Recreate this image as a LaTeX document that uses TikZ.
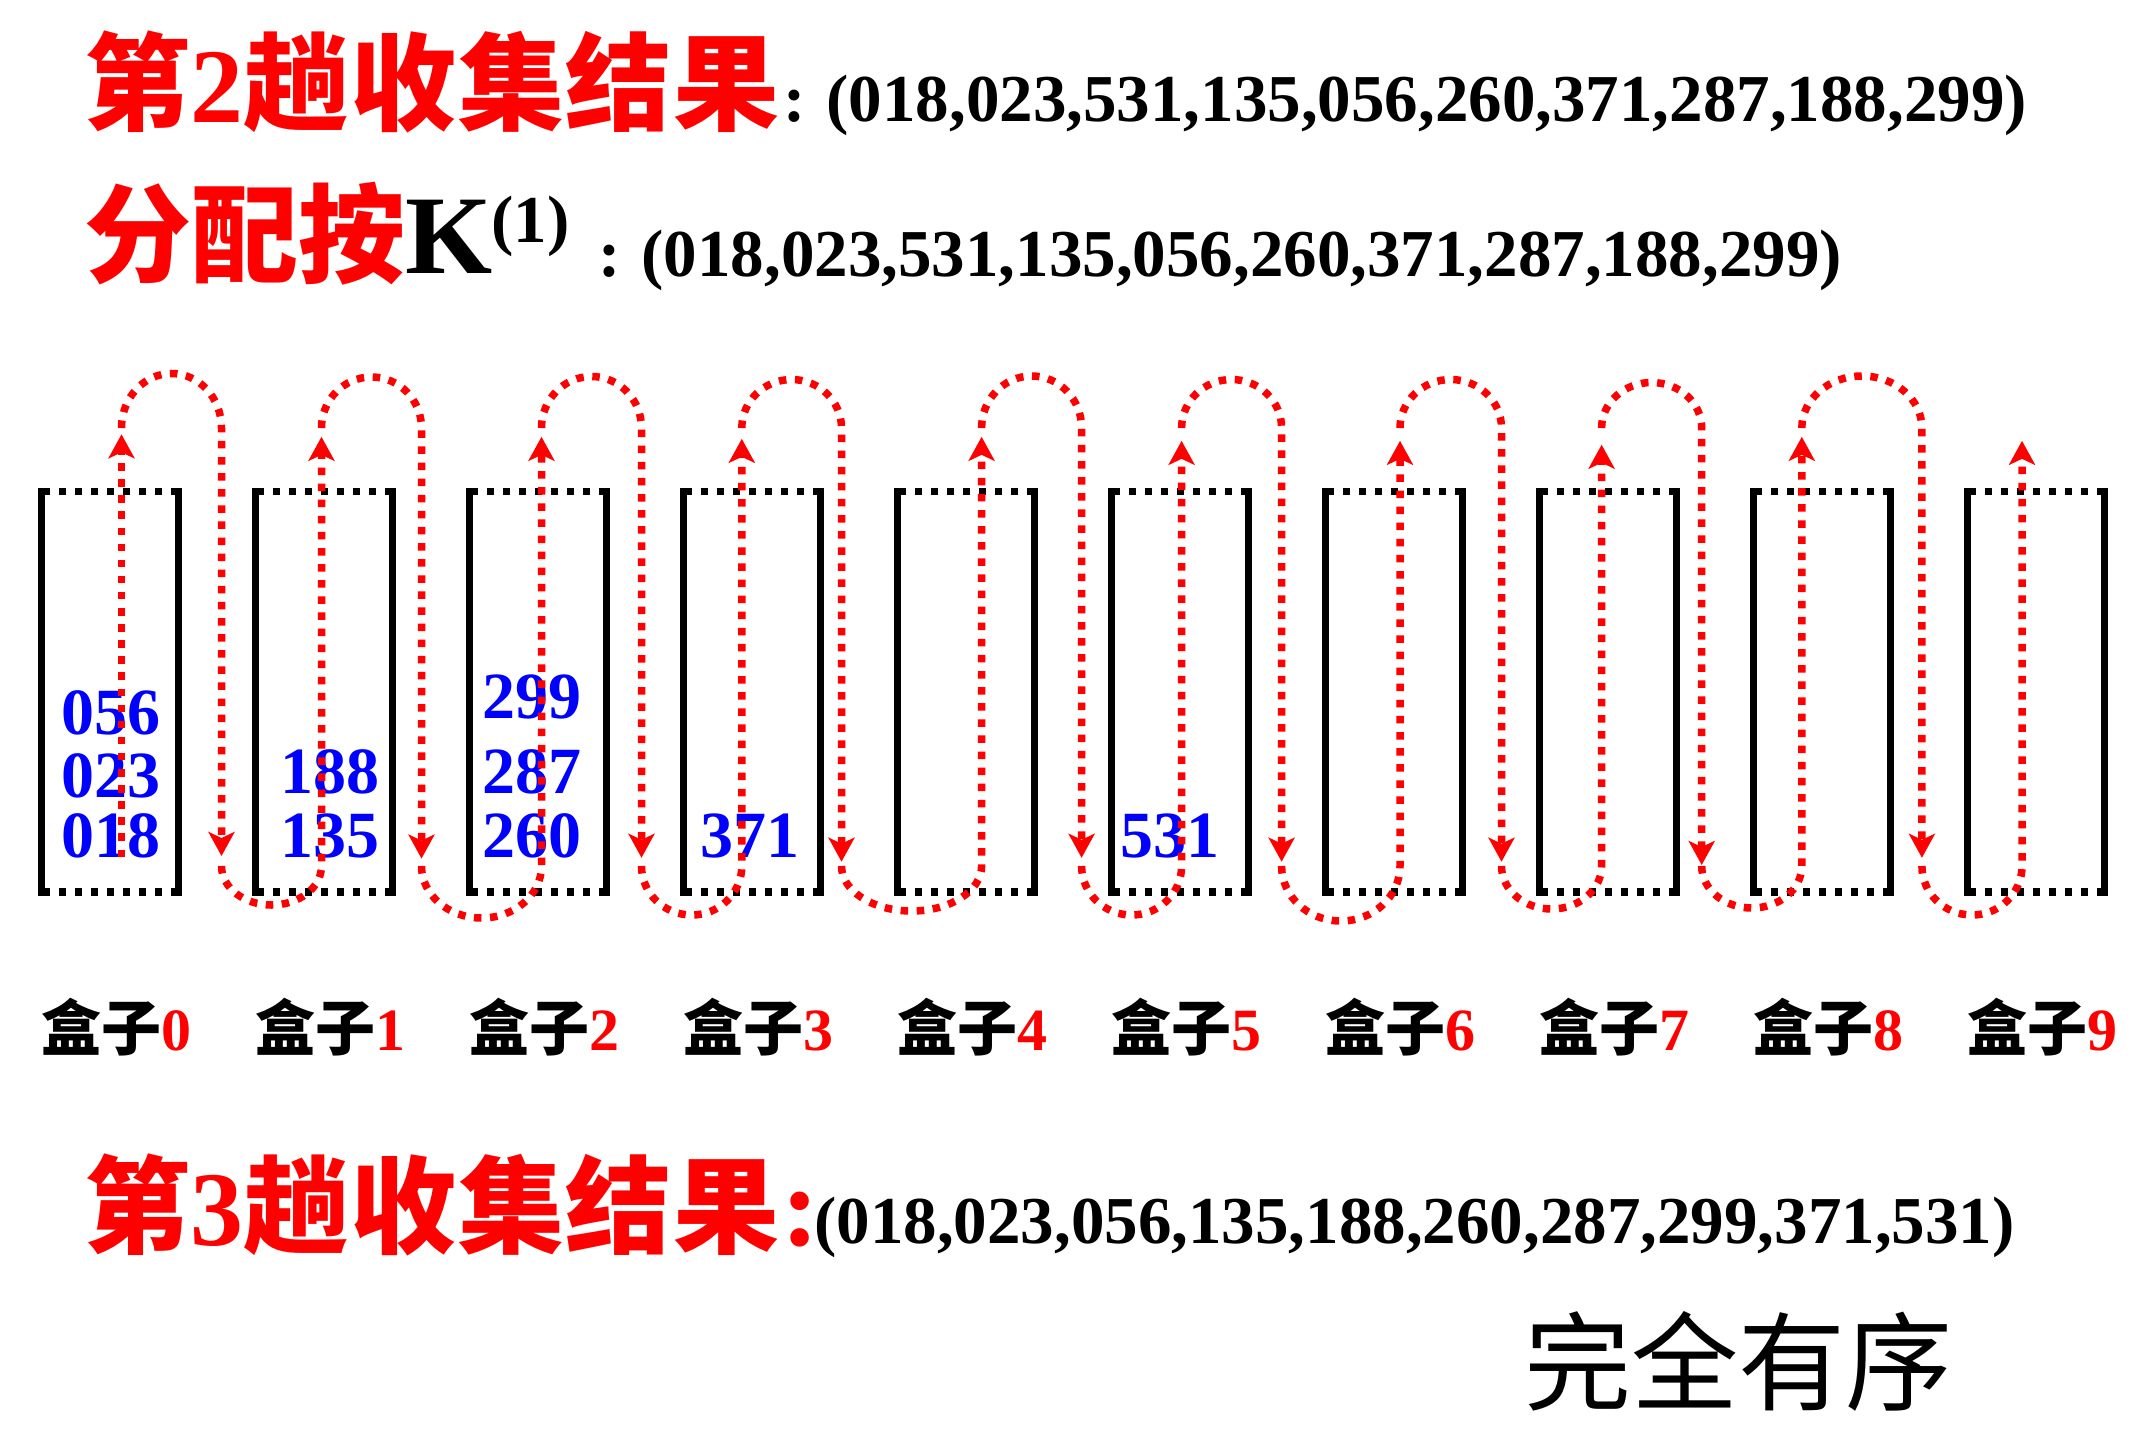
\documentclass[tikz,border=0pt]{standalone}
\usepackage{fontspec}
\setmainfont{Liberation Serif}
\newfontfamily\cjk{Noto Sans CJK SC}
\usetikzlibrary{arrows.meta}
\newcommand{\fs}[1]{\fontsize{#1pt}{#1pt}\selectfont}
\tikzset{
  boxnode/.style={minimum width=136.6pt, minimum height=400pt, inner sep=0pt, draw=none},
  boxside/.style={line width=7.5pt, black},
  boxdots/.style={line width=7.5pt, black, dash pattern=on 7.5pt off 8.54pt},
  reddots/.style={line width=7.5pt, red, dash pattern=on 7.5pt off 8.6pt},
  redarrow/.style={reddots, -{Stealth[length=24pt,width=26pt,inset=6pt]}},
  txt/.style={inner sep=0pt, anchor=base west},
  num/.style={inner sep=0pt, anchor=base, text=blue, font=\fs{66}\bfseries},
}
% top loop from up line (#1) to down line (#2), apex #3, then down to tip #4
\newcommand{\segA}[4]{%
  \draw[redarrow] (#1,428) .. controls +(0,{-0.5523*(428-#3)}) and +({-0.5523*(#2-#1)/2},0) .. ({(#1+#2)/2},#3)
     .. controls +({0.5523*(#2-#1)/2},0) and +(0,{-0.5523*(428-#3)}) .. (#2,428) -- (#2,#4);}
% bottom loop from down line (#1) to next up line (#2), bottom #3, then up to tip #4
\newcommand{\segB}[4]{%
  \draw[redarrow] (#1,866) .. controls +(0,{0.5523*(#3-866)}) and +({-0.5523*(#2-#1)/2},0) .. ({(#1+#2)/2},#3)
     .. controls +({0.5523*(#2-#1)/2},0) and +(0,{0.5523*(#3-866)}) .. (#2,866) -- (#2,#4);}
\begin{document}
\begin{tikzpicture}[x=1pt,y=-1pt]
\useasboundingbox (0,0) rectangle (2130,1440);
\fill[white] (0,0) rectangle (2130,1440);

% ---- headings ----
\node[txt,text=red] (t1) at (84,122) {\fs{106}\addfontfeatures{LetterSpace=1.5}{\cjk\bfseries\addfontfeatures{LetterSpace=1.5}第}\bfseries 2{\cjk\bfseries\addfontfeatures{LetterSpace=1.5}趟收集结果}};
\node[txt] (t1s) at (783,121) {\fs{67}\bfseries :\hspace{21pt}(018,023,531,135,056,260,371,287,188,299)};

\node[txt,text=red] (t2) at (84,274) {\fs{107}\cjk\bfseries 分配按};
\node[txt] (t2k) at (405,273) {\fs{112}\bfseries K};
\node[txt] (t2e) at (491,242) {\fs{67}\bfseries (1)};
\node[txt] (t2s) at (598,276) {\fs{67}\bfseries :\hspace{21pt}(018,023,531,135,056,260,371,287,188,299)};

% ---- boxes ----
\foreach \i in {0,...,9}{
  \node[boxnode] (b\i) at ({110+214*\i},691.7) {};
  \draw[boxside] ([yshift=3.75pt]b\i.north west) -- ([yshift=-3.75pt]b\i.south west);
  \draw[boxside] ([yshift=3.75pt]b\i.north east) -- ([yshift=-3.75pt]b\i.south east);
  \draw[boxdots] ([xshift=1pt]b\i.north west) -- (b\i.north east);
  \draw[boxdots] ([xshift=1pt]b\i.south west) -- (b\i.south east);
  \node[txt] (l\i) at ({41+214*\i},1050) {\fs{60}{\cjk\bfseries 盒子}\bfseries\textcolor{red}{\i}};
}

% ---- contents ----
\node[num] (n056) at (110.8,734) {056};
\node[num] (n023) at (110.8,797) {023};
\node[num] (n018) at (110.8,857) {018};
\node[num] (n188) at (330,793) {188};
\node[num] (n135) at (330,857) {135};
\node[num] (n299) at (532,718) {299};
\node[num] (n287) at (532,793) {287};
\node[num] (n260) at (532,857) {260};
\node[num] (n371) at (750,857) {371};
\node[num] (n531) at (1170,857) {531};

% ---- red serpentine path ----
\draw[redarrow] (121.5,857) -- (121.5,434.3);
\segA{121.5}{221.5}{373.5}{856}
\segB{221.5}{321.5}{905}{436.8}
\segA{321.5}{421.5}{377}{858.6}
\segB{421.5}{541.5}{918}{436.8}
\segA{541.5}{641.5}{376.5}{857.8}
\segB{641.5}{741.8}{915}{438.8}
\segA{741.8}{841.5}{379.5}{861.7}
\segB{841.5}{981.6}{911}{436.8}
\segA{981.6}{1081.6}{376}{857.8}
\segB{1081.6}{1181.6}{915}{440.8}
\segA{1181.6}{1281.6}{379.5}{861.7}
\segB{1281.6}{1400}{921}{440.8}
\segA{1400}{1501.5}{379.5}{861.7}
\segB{1501.5}{1601.6}{909}{444.7}
\segA{1601.6}{1701.7}{382.5}{865}
\segB{1701.7}{1801.8}{908}{436.8}
\segA{1801.8}{1921.9}{376}{857.8}
\segB{1921.9}{2022}{915}{440.8}

% ---- result ----
\node[txt,text=red] (t3) at (84,1245) {\fs{106}{\cjk\bfseries\addfontfeatures{LetterSpace=1.5}第}\bfseries 3{\cjk\bfseries\addfontfeatures{LetterSpace=1.5}趟收集结果}\kern2pt{\fs{114}:}\kern-6pt};
\node[txt] (t3s) at (814,1243) {\fs{67}\bfseries (018,023,056,135,188,260,287,299,371,531)};
\node[txt] (done) at (1524,1402) {\fs{107}\cjk 完全有序};
\end{tikzpicture}
\end{document}
